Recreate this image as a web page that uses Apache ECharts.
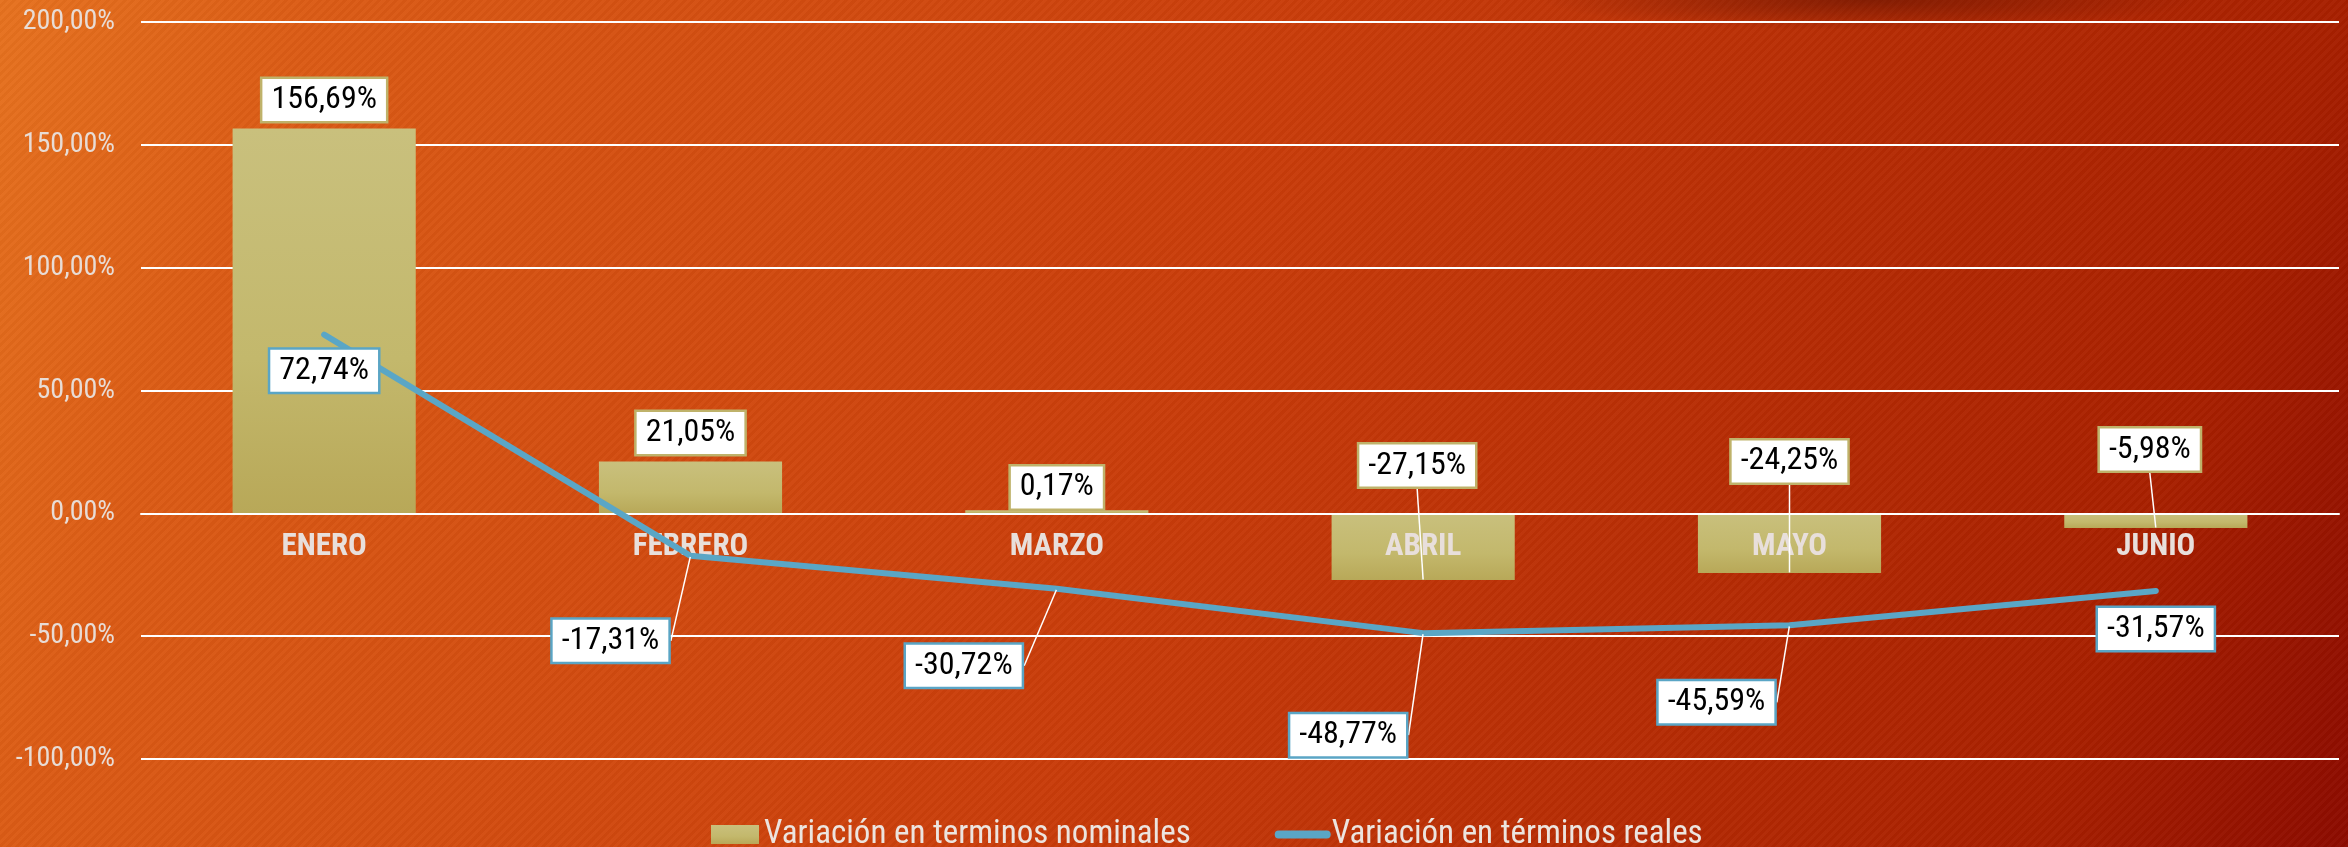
<!DOCTYPE html>
<html>
<head>
<meta charset="utf-8">
<script src="https://cdn.jsdelivr.net/npm/echarts@6/dist/echarts.min.js"></script>
<style>
  html, body { margin: 0; padding: 0; }
  #bg {
    position: absolute; left: 0; top: 0; width: 2348px; height: 847px;
    background:
      radial-gradient(ellipse 330px 30px at 1870px 0px, rgba(90,15,0,0.55), rgba(90,15,0,0) 100%),
      repeating-linear-gradient(135deg, rgba(255,255,255,0.025) 0px, rgba(255,255,255,0.025) 3px, rgba(0,0,0,0.025) 3px, rgba(0,0,0,0.025) 6px),
      linear-gradient(110deg, #e6721f 0%, #db5b15 12%, #c93c0a 50%, #a82000 88%, #8c0b00 100%);
  }
  #chart { position: absolute; left: 0; top: 0; width: 2348px; height: 847px; }
</style>
</head>
<body>
<div id="bg"></div>
<div id="chart"></div>
<script>
// ---- data ----
const categories = ['ENERO', 'FEBRERO', 'MARZO', 'ABRIL', 'MAYO', 'JUNIO'];
const nominalValues = [156.69, 21.05, 0.17, -27.15, -24.25, -5.98];
const realValues = [72.74, -17.31, -30.72, -48.77, -45.59, -31.57];
const seriesNames = ['Variación en terminos nominales', 'Variación en términos reales'];
const yMin = -100, yMax = 200, yStep = 50;

// label displacement (px) from the default label position
const nominalLabelShift = [[0, 0], [0, 0], [0, 3], [-6, -86], [0, -83], [-6, -50]];
const nominalLeader = [false, false, false, true, true, true];
const realLabelShift = [[0, 7], [-80, 56], [-93, 48], [-75, 73], [-73, 48], [0, 9]];
const realLeader = [false, true, true, true, true, false];

const FONT = '"Liberation Sans Narrow", "Roboto Condensed", Roboto, sans-serif';
const fmt = v => v.toFixed(2).replace('.', ',') + '%';

const chart = echarts.init(document.getElementById('chart'), null, { renderer: 'canvas' });

const labelBase = {
  show: true,
  color: '#000',
  fontFamily: FONT,
  fontSize: 32,
  backgroundColor: '#ffffff',
  borderWidth: 2.5,
  padding: [5, 9, 5, 9],
  distance: 7,
  formatter: p => fmt(p.value)
};

const option = {
  backgroundColor: 'transparent',
  animation: false,
  grid: { left: 141, right: 9, top: 22, bottom: 88, containLabel: false },
  legend: {
    data: [
      { name: seriesNames[0], icon: 'rect' },
      { name: seriesNames[1], itemStyle: { opacity: 0 }, lineStyle: { width: 8 } }
    ],
    left: 706,
    top: 813,
    itemWidth: 48,
    itemHeight: 19,
    itemGap: 84,
    textStyle: { color: '#ece4df', fontFamily: FONT, fontSize: 33 }
  },
  xAxis: {
    type: 'category',
    data: categories,
    boundaryGap: true,
    z: 3,
    axisLine: { show: true, onZero: true, lineStyle: { color: '#ffffff', width: 2 } },
    axisTick: { show: false },
    axisLabel: {
      color: '#e8dfdb',
      fontFamily: FONT,
      fontWeight: 'bold',
      fontSize: 31,
      margin: -227
    }
  },
  yAxis: {
    type: 'value',
    min: yMin,
    max: yMax,
    interval: yStep,
    axisLine: { show: false },
    axisTick: { show: false },
    splitLine: { lineStyle: { color: '#ffffff', width: 2 } },
    axisLabel: {
      color: '#e8dcd5',
      fontFamily: FONT,
      fontSize: 28,
      margin: 26,
      formatter: v => fmt(v)
    }
  },
  series: [
    {
      name: seriesNames[0],
      type: 'bar',
      data: nominalValues,
      barWidth: '50%',
      barMinHeight: 3,
      z: 2,
      itemStyle: {
        color: new echarts.graphic.LinearGradient(0, 0, 0, 1, [
          { offset: 0, color: '#c9c07d' },
          { offset: 0.6, color: '#c3b86c' },
          { offset: 1, color: '#b8a858' }
        ])
      }
    },
    {
      name: seriesNames[1],
      type: 'line',
      data: realValues.map((v, i) => ({
        value: v,
        labelLine: { show: realLeader[i] }
      })),
      z: 4,
      showSymbol: true,
      symbol: 'circle',
      symbolSize: 2,
      itemStyle: { color: '#5aa6c6' },
      lineStyle: { color: '#5aa6c6', width: 6, cap: 'round', join: 'round' },
      label: Object.assign({}, labelBase, {
        position: 'bottom',
        borderColor: '#5aa5c5'
      }),
      labelLine: { show: false, lineStyle: { color: '#ffffff', width: 1.5 } },
      labelLayout: p => ({ dx: realLabelShift[p.dataIndex][0], dy: realLabelShift[p.dataIndex][1] })
    },
    {
      name: 'nominal-labels',
      type: 'scatter',
      data: nominalValues.map((v, i) => ({
        value: v,
        labelLine: { show: nominalLeader[i] }
      })),
      z: 5,
      silent: true,
      symbolSize: 1,
      itemStyle: { color: 'rgba(0,0,0,0)', opacity: 1 },
      label: Object.assign({}, labelBase, {
        position: 'top',
        borderColor: '#bfb26a'
      }),
      labelLine: { show: false, lineStyle: { color: '#ffffff', width: 1.5 } },
      labelLayout: p => ({ dx: nominalLabelShift[p.dataIndex][0], dy: nominalLabelShift[p.dataIndex][1] })
    }
  ]
};

chart.setOption(option);
</script>
</body>
</html>
